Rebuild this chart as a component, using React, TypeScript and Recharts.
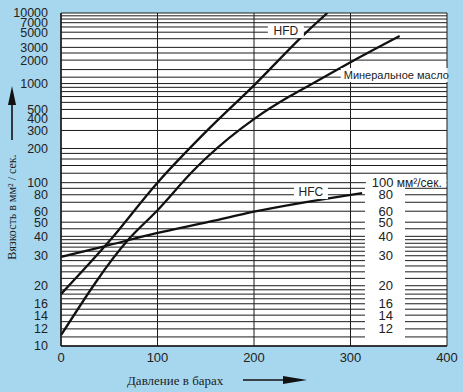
import React from "react";
import {
  LineChart,
  Line,
  XAxis,
  YAxis,
  CartesianGrid,
  ReferenceArea,
  ReferenceDot,
} from "recharts";

// viscosity charts use a log-log scale (ASTM style)
const T = (v: number) => Math.log10(Math.log10(v + 0.7));
const invT = (t: number) => Math.pow(10, Math.pow(10, t)) - 0.7;

const pressureTicks = [0, 100, 200, 300, 400];
const viscosityTicks = [
  10, 12, 14, 16, 20, 30, 40, 50, 60, 80, 100, 200, 300, 400, 500, 1000, 2000,
  3000, 5000, 7000, 10000,
];
const gridValues = [
  10, 11, 12, 13, 14, 15, 16, 17, 18, 19, 20, 22, 24, 26, 28, 30, 32, 34, 36,
  38, 40, 45, 50, 60, 70, 80, 90, 100, 120, 140, 160, 180, 200, 300, 400, 500,
  600, 700, 800, 900, 1000, 1200, 1500, 2000, 2500, 3000, 4000, 5000, 6000,
  7000, 8000, 9000, 10000,
];
const rightScale = [80, 60, 50, 40, 30, 20, 16, 14, 12];

const hfd = [
  { p: 0, v: 18 },
  { p: 49, v: 36.5 },
  { p: 100, v: 100 },
  { p: 150, v: 290 },
  { p: 200, v: 950 },
  { p: 255, v: 5100 },
  { p: 276, v: 10000 },
];
const mineral = [
  { p: 0, v: 11.2 },
  { p: 71, v: 38.8 },
  { p: 99, v: 60 },
  { p: 137, v: 126 },
  { p: 151, v: 165 },
  { p: 201, v: 401 },
  { p: 237, v: 705 },
  { p: 258, v: 960 },
  { p: 301, v: 1905 },
  { p: 351, v: 4390 },
];
const hfc = [
  { p: 0, v: 29.5 },
  { p: 44, v: 34.3 },
  { p: 99, v: 42 },
  { p: 154, v: 50.4 },
  { p: 200, v: 59.5 },
  { p: 312, v: 82.5 },
];

const INK = "#1c1c1c";
const SANS = "Liberation Sans, Arial, sans-serif";
const SERIF = "Liberation Serif, Times New Roman, serif";

const fmtTick = (t: number) => {
  const v = invT(t);
  let best = viscosityTicks[0];
  viscosityTicks.forEach((c) => {
    if (Math.abs(c - v) < Math.abs(best - v)) best = c;
  });
  return String(best);
};

function BoxLabel(props: any) {
  const { cx, cy, text, w, size, anchor } = props;
  const x0 = anchor === "start" ? cx - 3 : cx - w / 2;
  return (
    <g>
      <rect x={x0} y={cy - 7} width={w} height={14} fill="#fff" />
      <text
        x={cx}
        y={cy}
        dy="0.35em"
        textAnchor={anchor || "middle"}
        fontSize={size}
        fontFamily={SANS}
        fill="#222"
      >
        {text}
      </text>
    </g>
  );
}

export default function App() {
  return (
    <div
      style={{
        position: "fixed",
        left: 0,
        top: 0,
        width: 463,
        height: 392,
        background: "#a7d7ef",
      }}
    >
      <LineChart
        width={463}
        height={392}
        margin={{ top: 13, right: 16, bottom: 0, left: 0 }}
      >
        <CartesianGrid
          fill="#fff"
          stroke={INK}
          strokeWidth={1}
          horizontalValues={gridValues.map(T)}
          verticalValues={pressureTicks}
        />
        <XAxis
          dataKey="p"
          type="number"
          domain={[0, 400]}
          ticks={pressureTicks}
          height={46}
          tickSize={0}
          tickMargin={7}
          axisLine={{ stroke: INK, strokeWidth: 1.5 }}
          tick={{ fontSize: 13, fill: "#222", fontFamily: SANS }}
          label={{
            content: () => (
              <g>
                <text
                  x={127}
                  y={380}
                  dy="0.35em"
                  fontSize={13}
                  fontFamily={SERIF}
                  fill="#222"
                >
                  Давление в барах
                </text>
                <line x1={243} y1={380} x2={290} y2={380} stroke="#111" strokeWidth={1.6} />
                <polygon points="283,376 307,380 283,384" fill="#111" />
              </g>
            ),
          }}
        />
        <YAxis
          type="number"
          domain={[T(10), T(10000)]}
          allowDataOverflow
          ticks={viscosityTicks.map(T)}
          tickFormatter={fmtTick}
          width={61}
          tickSize={0}
          tickMargin={13}
          interval={0}
          axisLine={{ stroke: INK, strokeWidth: 1.5 }}
          tick={{ fontSize: 12.5, fill: "#222", fontFamily: SANS }}
          label={{
            content: () => (
              <g>
                <text
                  x={12}
                  y={207}
                  dy="0.35em"
                  textAnchor="middle"
                  fontSize={12}
                  fontFamily={SERIF}
                  fill="#222"
                  transform="rotate(-90 12 207)"
                >
                  Вязкость в мм² / сек.
                </text>
                <line x1={12} y1={140} x2={12} y2={100} stroke="#111" strokeWidth={1.6} />
                <polygon points="8,105 12,86 16,105" fill="#111" />
              </g>
            ),
          }}
        />
        <ReferenceArea
          x1={315}
          x2={356.5}
          y1={T(10.3)}
          y2={T(95)}
          fill="#fff"
          fillOpacity={1}
          stroke="none"
        />
        <ReferenceArea
          x1={316}
          x2={399.3}
          y1={T(94)}
          y2={T(106)}
          fill="#fff"
          fillOpacity={1}
          stroke="none"
        />
        {rightScale.map((v) => (
          <ReferenceDot
            key={v}
            x={336.5}
            y={T(v)}
            r={1}
            shape={(p: any) => (
              <text
                x={p.cx}
                y={p.cy}
                dy="0.35em"
                textAnchor="middle"
                fontSize={13}
                fontFamily={SANS}
                fill="#222"
              >
                {v}
              </text>
            )}
          />
        ))}
        <ReferenceDot
          x={322}
          y={T(100)}
          r={1}
          shape={(p: any) => (
            <text
              x={p.cx}
              y={p.cy}
              dy="0.35em"
              fontSize={13}
              fontFamily={SANS}
              fill="#222"
            >
              100
              <tspan fontSize={12}> мм²/сек.</tspan>
            </text>
          )}
        />
        <ReferenceDot
          x={233}
          y={T(5200)}
          r={1}
          shape={(p: any) => (
            <BoxLabel cx={p.cx} cy={p.cy} text="HFD" w={36} size={12} />
          )}
        />
        <ReferenceDot
          x={293}
          y={T(1276)}
          r={1}
          shape={(p: any) => (
            <BoxLabel
              cx={p.cx}
              cy={p.cy}
              text="Минеральное масло"
              w={107}
              size={11}
              anchor="start"
            />
          )}
        />
        <ReferenceDot
          x={259}
          y={T(84)}
          r={1}
          shape={(p: any) => (
            <BoxLabel cx={p.cx} cy={p.cy} text="HFC" w={34} size={12} />
          )}
        />
        <Line
          data={hfd}
          dataKey={(d: any) => T(d.v)}
          type="monotone"
          stroke="#111"
          strokeWidth={2.3}
          dot={false}
          isAnimationActive={false}
        />
        <Line
          data={mineral}
          dataKey={(d: any) => T(d.v)}
          type="monotone"
          stroke="#111"
          strokeWidth={2.3}
          dot={false}
          isAnimationActive={false}
        />
        <Line
          data={hfc}
          dataKey={(d: any) => T(d.v)}
          type="monotone"
          stroke="#111"
          strokeWidth={2.3}
          dot={false}
          isAnimationActive={false}
        />
      </LineChart>
    </div>
  );
}
